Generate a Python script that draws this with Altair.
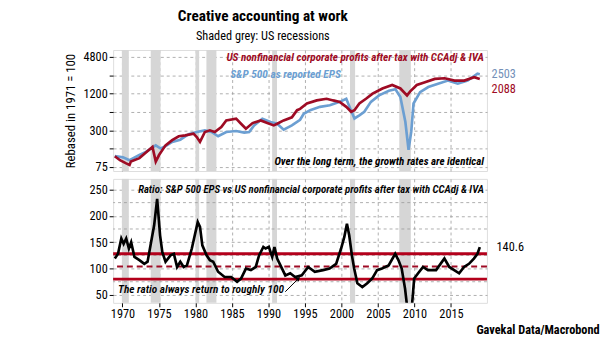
import altair as alt
import pandas as pd

FONT = "Liberation Sans Narrow, Roboto Condensed, Lato, sans-serif"
RED = "#9e0b24"
BLUE = "#6c9fd2"

# ---- data ----
prof_years = [1968.95, 1969.66, 1970.51, 1970.97, 1971.15, 1972.32, 1973.21, 1974.11, 1974.56, 1975.01,
              1975.90, 1976.81, 1977.71, 1978.60, 1979.73, 1980.18, 1980.62, 1981.29, 1981.97, 1982.64,
              1983.54, 1984.22, 1985.57, 1986.24, 1986.91, 1987.82, 1988.94, 1989.84, 1990.73, 1991.19,
              1992.08, 1993.21, 1993.92, 1994.33, 1995.27, 1996.62, 1997.96, 1998.87, 1999.76, 2000.66,
              2001.33, 2001.78, 2002.45, 2003.36, 2004.26, 2005.61, 2006.95, 2008.07, 2008.98, 2009.42,
              2010.32, 2011.44, 2012.79, 2014.14, 2015.49, 2016.83, 2018.18, 2018.95]
prof_vals = [113, 97, 86, 81, 92, 105, 130, 160, 92, 118,
             170, 207, 240, 248, 265, 233, 194, 282, 300, 282,
             340, 437, 466, 385, 320, 395, 437, 395, 362, 385,
             437, 490, 643, 675, 827, 930, 990, 930, 880, 730,
             605, 643, 827, 990, 1200, 1460, 1670, 1460, 1125, 1310,
             1670, 1850, 2100, 2150, 1970, 1970, 2240, 2088]

eps_years = [1968.95, 1970.07, 1970.97, 1972.32, 1973.21, 1974.56, 1975.23, 1975.90, 1976.81, 1977.92,
             1979.06, 1980.18, 1981.29, 1982.20, 1983.10, 1984.22, 1985.57, 1986.68, 1987.36, 1988.03,
             1989.16, 1990.28, 1991.19, 1992.08, 1993.21, 1994.33, 1994.83, 1995.71, 1997.06, 1998.41,
             1999.76, 2000.66, 2001.20, 2001.78, 2002.45, 2003.13, 2004.03, 2005.15, 2006.50, 2007.40,
             2008.07, 2008.75, 2009.19, 2009.56, 2009.87, 2010.77, 2011.89, 2013.23, 2014.58, 2015.93,
             2017.28, 2018.63, 2018.95]
eps_vals = [113, 108, 97, 118, 133, 170, 151, 165, 194, 211,
            259, 282, 300, 282, 240, 282, 293, 275, 282, 362,
            466, 411, 385, 308, 362, 448, 560, 643, 730, 775,
            880, 990, 686, 470, 530, 605, 880, 1125, 1340, 1415,
            1060, 415, 144, 285, 827, 1270, 1540, 1750, 1970, 1750,
            1970, 2560, 2503]

ratio_years = [1968.95, 1969.39, 1969.84, 1970.16, 1970.51, 1970.88, 1971.19, 1971.64, 1972.32, 1972.99,
               1973.44, 1973.88, 1974.34, 1974.75, 1974.88, 1975.15, 1975.46, 1975.90, 1976.58, 1977.04,
               1977.48, 1977.92, 1978.38, 1978.83, 1979.50, 1979.95, 1980.31, 1980.62, 1980.94, 1981.52,
               1981.97, 1982.43, 1983.10, 1983.99, 1984.89, 1985.70, 1986.24, 1986.91, 1987.59, 1988.26,
               1988.71, 1989.30, 1989.61, 1990.05, 1990.51, 1990.82, 1991.19, 1991.86, 1992.31, 1992.98,
               1993.65, 1994.56, 1995.44, 1996.35, 1997.47, 1998.37, 1999.27, 1999.95, 2000.39, 2000.75,
               2001.06, 2001.43, 2001.74, 2002.18, 2002.86, 2003.53, 2004.20, 2004.88, 2005.55, 2006.46,
               2007.36, 2007.80, 2008.25, 2008.71, 2009.06, 2009.60, 2009.96, 2010.50, 2011.17, 2011.85,
               2012.96, 2014.10, 2014.77, 2015.44, 2016.12, 2016.79, 2017.47, 2018.14, 2018.63, 2018.95]
ratio_vals = [119, 128, 157, 147, 157, 138, 150, 122, 116, 109,
              113, 147, 182, 232, 210, 163, 131, 113, 125, 128,
              103, 113, 103, 106, 138, 166, 188, 179, 144, 125,
              116, 113, 94, 84, 84, 75, 81, 100, 97, 103,
              125, 141, 138, 141, 122, 141, 119, 100, 87, 91,
              84, 87, 103, 94, 97, 100, 109, 138, 160, 185,
              163, 125, 100, 72, 65, 72, 81, 97, 100, 106,
              128, 116, 100, 62, 20, 20, 81, 91, 103, 97,
              97, 119, 103, 97, 91, 103, 109, 119, 128, 140.6]

rec_start = [1969.92, 1973.87, 1980.0, 1981.5, 1990.5, 2001.17, 2007.92]
rec_end = [1970.87, 1975.21, 1980.5, 1982.87, 1991.17, 2001.87, 2009.5]

band_levels = [128, 80]
mean_level = [104]

arrow_x = [1992.3, 1994.1]
arrow_y = [56, 81]

x_domain = [1968.72, 2019.93]
x_ticks = list(range(1970, 2020, 5))
top_ticks = [75, 150, 300, 600, 1200, 2400, 4800]
bot_ticks = [50, 100, 150, 200, 250]
bot_minor = [75, 125, 175, 225]

title_text = "Creative accounting at work"
subtitle_text = "Shaded grey: US recessions"
ytitle_text = "Rebased in 1971 = 100"
red_label = "US nonfinancial corporate profits after tax with CCAdj & IVA"
blue_label = "S&P 500 as reported EPS"
top_note = "Over the long term, the growth rates are identical"
ratio_label = "Ratio: S&P 500 EPS vs US nonfinancial corporate profits after tax with CCAdj & IVA"
ratio_note = "The ratio always return to roughly 100"
source_text = "Gavekal Data/Macrobond"

W = 380
H_TOP = 123
H_BOT = 126

xscale = alt.Scale(domain=x_domain, nice=False, zero=False)
grid_kw = dict(grid=True, gridDash=[3, 3], gridColor="#9a9a9a", gridWidth=0.8)

top_xaxis = alt.Axis(values=x_ticks, labels=False, ticks=False, domain=False, title=None, **grid_kw)
bot_xaxis = alt.Axis(values=x_ticks, format="d", labelFontSize=12.5, labelColor="#000",
                     tickColor="#000", tickSize=4, domain=False, labelPadding=1, labelOverlap=False,
                     title=source_text, titleFontWeight="bold", titleFontSize=12.5,
                     titleAlign="right", titleX=494, titleY=27, titleBaseline="middle",
                     titleColor="#000", **grid_kw)

rec_df = pd.DataFrame({"start": rec_start, "end": rec_end})
prof_df = pd.DataFrame({"year": prof_years, "v": prof_vals})
eps_df = pd.DataFrame({"year": eps_years, "v": eps_vals})
ratio_df = pd.DataFrame({"year": ratio_years, "v": ratio_vals})

# ---------- top panel ----------
yscale_top = alt.Scale(type="log", domain=[64.5, 6250], nice=False)
top_yaxis = alt.Axis(values=top_ticks, format="d", labelFontSize=12.5, labelColor="#000",
                     labelExpr="(datum.value==75||datum.value==300||datum.value==1200||datum.value==4800) ? datum.label : ''",
                     labelOverlap=False,
                     tickColor="#000", tickSize=4, domain=False,
                     title=ytitle_text, titleFontSize=13, titleFontWeight="normal", titleColor="#000",
                     titlePadding=6, **grid_kw)

rec_top = alt.Chart(rec_df).mark_rect(color="#d6d6d6").encode(
    x=alt.X("start:Q", scale=xscale, axis=top_xaxis), x2="end:Q")
eps_line = alt.Chart(eps_df).mark_line(color=BLUE, strokeWidth=2.7, clip=True).encode(
    x=alt.X("year:Q", scale=xscale, axis=top_xaxis),
    y=alt.Y("v:Q", scale=yscale_top, axis=top_yaxis))
prof_line = alt.Chart(prof_df).mark_line(color=RED, strokeWidth=2.7, clip=True).encode(
    x=alt.X("year:Q", scale=xscale, axis=top_xaxis),
    y=alt.Y("v:Q", scale=yscale_top, axis=top_yaxis))

end_df = pd.DataFrame({"year": [eps_years[-1], prof_years[-1]],
                       "v": [eps_vals[-1], prof_vals[-1]],
                       "lab": [str(eps_vals[-1]), str(prof_vals[-1])]})
end_labels_eps = alt.Chart(end_df.iloc[[0]]).mark_text(
    align="left", dx=12, dy=0, fontSize=12.5, font=FONT, color="#7390b8").encode(
    x=alt.X("year:Q", scale=xscale, axis=top_xaxis), y=alt.Y("v:Q", scale=yscale_top, axis=top_yaxis),
    text="lab:N")
end_labels_prof = alt.Chart(end_df.iloc[[1]]).mark_text(
    align="left", dx=12, dy=10, fontSize=12.5, font=FONT, color=RED).encode(
    x=alt.X("year:Q", scale=xscale, axis=top_xaxis), y=alt.Y("v:Q", scale=yscale_top, axis=top_yaxis),
    text="lab:N")


def note(txt, x, y, align, color, size=12, weight="bold"):
    return alt.Chart(pd.DataFrame({"t": [txt]})).mark_text(
        align=align, baseline="middle", font=FONT, fontSize=size, fontStyle="italic",
        fontWeight=weight, color=color).encode(text="t:N", x=alt.value(x), y=alt.value(y))


top = alt.layer(
    rec_top, eps_line, prof_line, end_labels_eps, end_labels_prof,
    note(red_label, 377, 8, "right", RED, 11.3),
    note(blue_label, 119, 25, "left", BLUE, 11.5),
    note(top_note, 377, 114, "right", "#000", 11.2),
).properties(width=W, height=H_TOP)

# ---------- bottom panel ----------
yscale_bot = alt.Scale(domain=[35, 270], nice=False, zero=False)
bot_yaxis = alt.Axis(values=bot_ticks, format="d", labelFontSize=12.5, labelColor="#000",
                     labelOverlap=False, labelSeparation=0,
                     tickColor="#000", tickSize=4, domain=False, title=None, **grid_kw)


def Yb(field):
    return alt.Y(field, scale=yscale_bot, axis=bot_yaxis)


def Xb(field):
    return alt.X(field, scale=xscale, axis=bot_xaxis)


rec_bot = alt.Chart(rec_df).mark_rect(color="#d6d6d6").encode(x=Xb("start:Q"), x2="end:Q")
minor_grid = alt.Chart(pd.DataFrame({"lvl": bot_minor})).mark_rule(
    color="#9a9a9a", strokeWidth=0.8, strokeDash=[3, 3]).encode(y=Yb("lvl:Q"))
bands = alt.Chart(pd.DataFrame({"lvl": band_levels})).mark_rule(color="#b3001b", strokeWidth=3).encode(
    y=Yb("lvl:Q"))
mean_rule = alt.Chart(pd.DataFrame({"lvl": mean_level})).mark_rule(
    color="#9e0b24", strokeWidth=2, strokeDash=[6, 4]).encode(y=Yb("lvl:Q"))
ratio_line = alt.Chart(ratio_df).mark_line(color="#000", strokeWidth=2.7, clip=True).encode(
    x=Xb("year:Q"), y=Yb("v:Q"))
ratio_end = alt.Chart(ratio_df.iloc[[-1]]).mark_text(
    align="left", dx=17, fontSize=12.5, font=FONT, color="#000").encode(
    x=Xb("year:Q"), y=Yb("v:Q"), text=alt.Text("v:Q", format=".1f"))

arrow_df = pd.DataFrame({"x": [arrow_x[0]], "x2": [arrow_x[1]], "y": [arrow_y[0]], "y2": [arrow_y[1]]})
arrow_line = alt.Chart(arrow_df).mark_rule(color="#000", strokeWidth=1).encode(
    x=Xb("x:Q"), x2="x2:Q", y=Yb("y:Q"), y2="y2:Q")
arrow_head = alt.Chart(arrow_df).mark_point(shape="triangle-up", filled=True, color="#000",
                                            size=25, angle=45, opacity=1).encode(
    x=Xb("x2:Q"), y=Yb("y2:Q"))

bottom = alt.layer(
    rec_bot, minor_grid, bands, mean_rule, ratio_line, ratio_end, arrow_line, arrow_head,
    note(ratio_label, 377, 11, "right", "#000", 11, 600),
    note(ratio_note, 5, 113, "left", "#000", 11.5, 600),
).properties(width=W, height=H_BOT)

chart = alt.vconcat(top, bottom, spacing=4).properties(
    title=alt.TitleParams(title_text, subtitle=subtitle_text, fontSize=15.5, fontWeight="bold",
                          subtitleFontSize=12.5, subtitleColor="#000", color="#000",
                          anchor="middle", dx=-70, offset=7, subtitlePadding=6, font=FONT,
                          subtitleFont=FONT),
    padding={"left": 64, "top": 6, "right": 5, "bottom": 5},
).configure_view(stroke="#000", strokeWidth=1.2).configure(font=FONT).configure_axis(
    labelFont=FONT, titleFont=FONT, labelOverlap=False)

chart.save("out.html", embed_options={"renderer": "svg", "actions": False})
